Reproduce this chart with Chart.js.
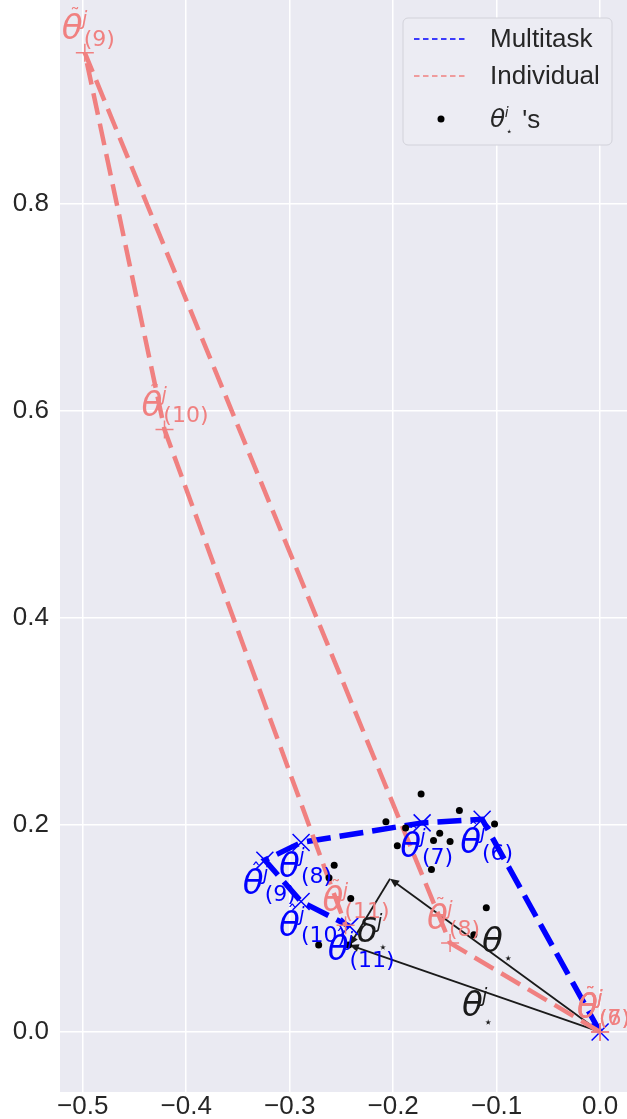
<!DOCTYPE html>
<html lang="en">
<head>
<meta charset="UTF-8">
<title>Multitask vs Individual</title>
<script src="https://cdn.jsdelivr.net/npm/chart.js"></script>
<style>
  body { margin: 0; background: #fff; }
  .wrap { width: 627px; height: 1119px; }
</style>
</head>
<body>
<div class="wrap"><canvas id="myChart"></canvas></div>
<script>
// multitask path (first point = origin, not labelled)
const multiX = [0.0, -0.114, -0.172, -0.289, -0.324, -0.289, -0.242];
const multiY = [0.0, 0.2055, 0.202, 0.183, 0.166, 0.126, 0.102];
const multiNames = ['', '(6)', '(7)', '(8)', '(9)', '(10)', '(11)'];

// individual path
const indivX = [0.0, 0.0, -0.145, -0.498, -0.421, -0.246];
const indivY = [0.0, 0.0, 0.086, 0.946, 0.582, 0.103];
const indivNames = ['(6)', '(7)', '(8)', '(9)', '(10)', '(11)'];

// theta_star^i points
const starX = [-0.173, -0.136, -0.207, -0.102, -0.188, -0.155, -0.161, -0.145, -0.196,
               -0.163, -0.257, -0.262, -0.241, -0.110, -0.122, -0.272, -0.243];
const starY = [0.230, 0.214, 0.203, 0.201, 0.197, 0.192, 0.185, 0.184, 0.180,
               0.157, 0.161, 0.149, 0.129, 0.120, 0.094, 0.084, 0.084];

const thetaStar = [-0.203, 0.148];
const thetaStarJ = [-0.242, 0.084];

const xTicks = [-0.5, -0.4, -0.3, -0.2, -0.1, 0.0];
const yTicks = [0.0, 0.2, 0.4, 0.6, 0.8];

const BLUE = '#0000ff';
const RED = '#f08080';
const INK = '#1a1a1a';
const TXT = '#262626';
const SANS = '"Liberation Sans", Arial, sans-serif';

function fmt(v) {
  const s = Math.abs(v).toFixed(1);
  return v < -1e-9 ? '\u2212' + s : s;
}

function pts(xs, ys) {
  return xs.map((x, i) => ({x: x, y: ys[i]}));
}

// theta with accent / superscript / subscript, (x,y) = left baseline
function mathLabel(ctx, x, y, o) {
  const s = o.size || 34;
  ctx.save();
  ctx.fillStyle = o.color;
  ctx.textAlign = 'left';
  ctx.textBaseline = 'alphabetic';
  ctx.font = 'italic ' + s + 'px "DejaVu Sans"';
  ctx.fillText(o.sym, x, y);
  const w = ctx.measureText(o.sym).width;
  if (o.accent) {
    ctx.font = Math.round(s * 0.6) + 'px "DejaVu Sans"';
    const aw = ctx.measureText(o.accent).width;
    ctx.fillText(o.accent, x + w / 2 - aw / 2 + s * 0.08, y - s * 0.5);
  }
  if (o.sup) {
    ctx.font = 'italic ' + Math.round(s * 0.55) + 'px "DejaVu Sans"';
    ctx.fillText(o.sup, x + w - s * 0.02, y - s * 0.42);
  }
  if (o.star) {
    ctx.font = Math.round(s * 0.45) + 'px "DejaVu Sans"';
    ctx.fillText('\u22c6', x + w + s * 0.02, y + s * 0.3);
  }
  if (o.sub) {
    ctx.font = Math.round(s * 0.64) + 'px "DejaVu Sans"';
    ctx.fillText(o.sub, x + w + s * 0.03, y + s * 0.2);
  }
  ctx.restore();
  return w;
}

function arrow(ctx, x0, y0, x1, y1) {
  const a = Math.atan2(y1 - y0, x1 - x0);
  const L = 9, H = 4;
  ctx.beginPath();
  ctx.moveTo(x0, y0);
  ctx.lineTo(x1 - L * 0.6 * Math.cos(a), y1 - L * 0.6 * Math.sin(a));
  ctx.stroke();
  ctx.beginPath();
  ctx.moveTo(x1, y1);
  ctx.lineTo(x1 - L * Math.cos(a) + H * Math.sin(a), y1 - L * Math.sin(a) - H * Math.cos(a));
  ctx.lineTo(x1 - L * Math.cos(a) - H * Math.sin(a), y1 - L * Math.sin(a) + H * Math.cos(a));
  ctx.closePath();
  ctx.fill();
}

const bgPlugin = {
  id: 'bg',
  beforeDraw(chart) {
    const {ctx, chartArea: a} = chart;
    ctx.save();
    ctx.fillStyle = '#eaeaf2';
    ctx.fillRect(a.left, a.top, a.right - a.left, a.bottom - a.top);
    ctx.restore();
  }
};

// tick labels drawn here so they don't pad the plot area
const tickPlugin = {
  id: 'tickLabels',
  afterDraw(chart) {
    const ctx = chart.ctx, xs = chart.scales.x, ys = chart.scales.y, a = chart.chartArea;
    ctx.save();
    ctx.fillStyle = TXT;
    ctx.font = '26px ' + SANS;
    ctx.textBaseline = 'middle';
    ctx.textAlign = 'right';
    yTicks.forEach(v => ctx.fillText(fmt(v), a.left - 11, ys.getPixelForValue(v)));
    ctx.textAlign = 'center';
    xTicks.forEach(v => ctx.fillText(fmt(v), xs.getPixelForValue(v), a.bottom + 15));
    ctx.restore();
  }
};

const arrowPlugin = {
  id: 'arrows',
  beforeDatasetsDraw(chart) {
    const ctx = chart.ctx, xs = chart.scales.x, ys = chart.scales.y;
    const ox = xs.getPixelForValue(0), oy = ys.getPixelForValue(0);
    const sx = xs.getPixelForValue(thetaStar[0]), sy = ys.getPixelForValue(thetaStar[1]);
    const jx = xs.getPixelForValue(thetaStarJ[0]), jy = ys.getPixelForValue(thetaStarJ[1]);
    ctx.save();
    ctx.strokeStyle = INK;
    ctx.fillStyle = INK;
    ctx.lineWidth = 1.8;
    arrow(ctx, ox, oy, sx, sy);
    arrow(ctx, ox, oy, jx, jy);
    arrow(ctx, sx, sy, jx, jy);
    ctx.restore();
  }
};

const labelPlugin = {
  id: 'labels',
  afterDatasetsDraw(chart) {
    const ctx = chart.ctx, xs = chart.scales.x, ys = chart.scales.y;
    for (let i = 1; i < multiX.length; i++) {
      const px = xs.getPixelForValue(multiX[i]), py = ys.getPixelForValue(multiY[i]);
      mathLabel(ctx, px - 22, py + 34, {sym: '\u03b8', accent: '\u02c6', sup: 'j', sub: multiNames[i], color: BLUE});
    }
    for (let i = 0; i < indivX.length; i++) {
      const px = xs.getPixelForValue(indivX[i]), py = ys.getPixelForValue(indivY[i]);
      mathLabel(ctx, px - 23, py - 14, {sym: '\u03b8', accent: '\u02dc', sup: 'j', sub: indivNames[i], color: RED});
    }
    const ox = xs.getPixelForValue(0), oy = ys.getPixelForValue(0);
    const sx = xs.getPixelForValue(thetaStar[0]), sy = ys.getPixelForValue(thetaStar[1]);
    const jx = xs.getPixelForValue(thetaStarJ[0]), jy = ys.getPixelForValue(thetaStarJ[1]);
    mathLabel(ctx, (ox + sx) / 2 - 13, (oy + sy) / 2 - 3, {sym: '\u03b8', star: true, color: INK});
    mathLabel(ctx, (ox + jx) / 2 - 13, (oy + jy) / 2 + 28, {sym: '\u03b8', sup: 'j', star: true, color: INK});
    mathLabel(ctx, (sx + jx) / 2 - 13, (sy + jy) / 2 + 30, {sym: '\u03b4', sup: 'j', star: true, color: INK});
  }
};

const legendPlugin = {
  id: 'customLegend',
  afterDraw(chart) {
    const ctx = chart.ctx;
    const bx = 403, by = 18, bw = 209, bh = 127, r = 5;
    ctx.save();
    ctx.beginPath();
    ctx.moveTo(bx + r, by);
    ctx.arcTo(bx + bw, by, bx + bw, by + bh, r);
    ctx.arcTo(bx + bw, by + bh, bx, by + bh, r);
    ctx.arcTo(bx, by + bh, bx, by, r);
    ctx.arcTo(bx, by, bx + bw, by, r);
    ctx.closePath();
    ctx.fillStyle = '#ececf3';
    ctx.fill();
    ctx.strokeStyle = '#d2d2da';
    ctx.lineWidth = 1;
    ctx.stroke();

    ctx.lineWidth = 1.6;
    ctx.setLineDash([5.5, 3.5]);
    ctx.strokeStyle = BLUE;
    ctx.beginPath(); ctx.moveTo(414, 39); ctx.lineTo(468, 39); ctx.stroke();
    ctx.strokeStyle = RED;
    ctx.beginPath(); ctx.moveTo(414, 76); ctx.lineTo(468, 76); ctx.stroke();
    ctx.setLineDash([]);
    ctx.fillStyle = '#000';
    ctx.beginPath(); ctx.arc(441, 119, 3.5, 0, Math.PI * 2); ctx.fill();

    ctx.fillStyle = TXT;
    ctx.font = '26px ' + SANS;
    ctx.textBaseline = 'middle';
    ctx.fillText('Multitask', 490, 40);
    ctx.fillText('Individual', 490, 77);
    const w = mathLabel(ctx, 490, 127, {sym: '\u03b8', sup: 'i', star: true, color: TXT, size: 25});
    ctx.font = '26px ' + SANS;
    ctx.textBaseline = 'alphabetic';
    ctx.fillStyle = TXT;
    ctx.fillText("'s", 490 + w + 17, 128);
    ctx.restore();
  }
};

const data = {
  datasets: [
    {
      label: "theta_star's",
      data: pts(starX, starY),
      showLine: false,
      pointRadius: 3.5,
      pointBackgroundColor: '#000',
      pointBorderWidth: 0
    },
    {
      label: 'Individual',
      data: pts(indivX, indivY),
      showLine: true,
      borderColor: RED,
      borderWidth: 4.5,
      borderDash: [22, 9],
      pointStyle: 'cross',
      pointRadius: 9,
      pointBorderColor: RED,
      pointBorderWidth: 1.5,
      tension: 0
    },
    {
      label: 'Multitask',
      data: pts(multiX, multiY),
      showLine: true,
      borderColor: BLUE,
      borderWidth: 5.5,
      borderDash: [24, 9],
      pointStyle: 'crossRot',
      pointRadius: 12,
      pointBorderColor: BLUE,
      pointBorderWidth: 1.5,
      tension: 0
    }
  ]
};

const config = {
  type: 'scatter',
  data: data,
  options: {
    responsive: true,
    maintainAspectRatio: false,
    animation: false,
    layout: {padding: 0, autoPadding: false},
    plugins: {legend: {display: false}, tooltip: {enabled: false}},
    scales: {
      x: {
        type: 'linear',
        min: -0.522,
        max: 0.026,
        afterBuildTicks: (s) => { s.ticks = xTicks.map(v => ({value: v})); },
        afterFit: (s) => { s.height = 27; },
        grid: {color: '#ffffff', lineWidth: 1.5, drawTicks: false},
        border: {display: false},
        ticks: {display: false}
      },
      y: {
        type: 'linear',
        min: -0.058,
        max: 0.997,
        afterBuildTicks: (s) => { s.ticks = yTicks.map(v => ({value: v})); },
        afterFit: (s) => { s.width = 60; },
        grid: {color: '#ffffff', lineWidth: 1.5, drawTicks: false},
        border: {display: false},
        ticks: {display: false}
      }
    }
  },
  plugins: [bgPlugin, arrowPlugin, labelPlugin, tickPlugin, legendPlugin]
};

const chart = new Chart(document.getElementById('myChart'), config);
</script>
</body>
</html>
